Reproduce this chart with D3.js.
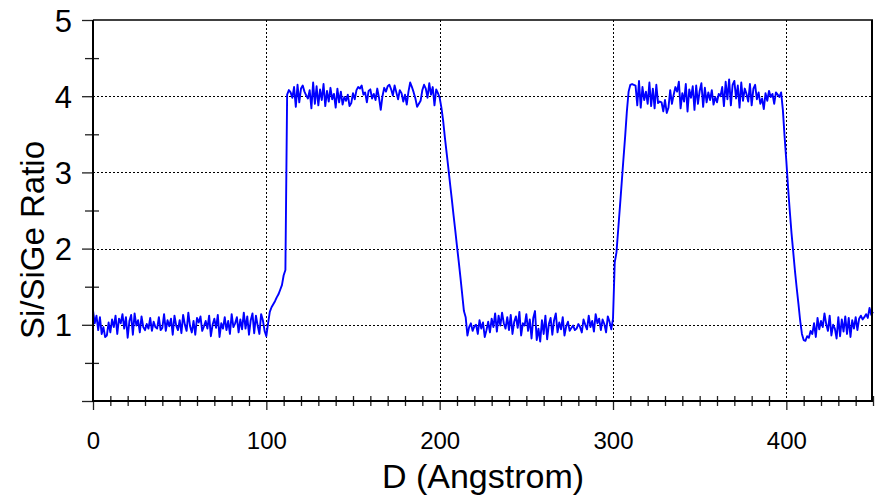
<!DOCTYPE html>
<html>
<head>
<meta charset="utf-8">
<script src="https://cdn.jsdelivr.net/npm/d3@7"></script>
<style>
  body { margin: 0; background: #fff; }
  svg { display: block; font-family: "Liberation Sans", Arial, sans-serif; }
</style>
</head>
<body>
<svg id="chart" width="877" height="496"></svg>
<script>
// Si/SiGe ratio sampled every 1 Angstrom, D = 0 .. 450
const depthStep = 1;
const ratio = [
  1.19, 1.02, 1.12, 0.93, 1.10, 0.88, 0.97, 0.84, 0.86, 1.03,
  0.90, 1.07, 0.97, 1.12, 0.88, 1.08, 1.02, 1.14, 0.95, 1.10,
  0.83, 1.05, 1.13, 0.87, 1.15, 0.99, 1.06, 0.90, 1.11, 0.97,
  0.93, 1.01, 0.95, 1.09, 0.92, 1.04, 0.97, 0.95, 1.10, 0.93,
  0.96, 1.14, 0.92, 1.06, 0.98, 1.08, 0.87, 1.12, 0.99, 0.93,
  1.06, 0.89, 1.13, 1.00, 0.92, 1.16, 0.98, 0.90, 1.05, 0.87,
  1.09, 1.03, 1.11, 0.92, 0.98, 1.05, 0.95, 1.12, 0.85, 1.00,
  1.08, 0.96, 1.13, 0.84, 1.02, 0.95, 1.10, 0.93, 1.05, 0.88,
  1.14, 0.97, 1.02, 1.10, 0.90, 1.07, 0.94, 1.16, 0.95, 1.11,
  0.87, 1.06, 1.15, 0.89, 1.12, 0.99, 0.88, 1.14, 1.06, 0.92,
  0.85, 1.02, 1.17, 1.23, 1.27, 1.31, 1.36, 1.40, 1.46, 1.52,
  1.65, 1.72, 4.02, 4.08, 4.05, 3.98, 4.12, 3.86, 4.15, 3.92,
  4.10, 4.14, 4.06, 4.01, 3.97, 4.08, 3.84, 4.18, 3.90, 4.13,
  3.88, 4.09, 3.95, 4.16, 3.87, 4.07, 3.93, 4.11, 3.96, 4.03,
  3.85, 4.10, 3.92, 4.06, 3.89, 3.99, 3.94, 4.02, 3.87, 3.91,
  4.04, 3.96, 4.08, 4.12, 4.10, 4.14, 4.02, 4.05, 3.92, 4.07,
  4.09, 3.97, 4.03, 3.95, 4.10, 3.98, 3.82, 4.00, 4.11, 4.06,
  4.13, 4.15, 4.09, 4.01, 4.14, 4.05, 3.96, 4.08, 4.04, 3.93,
  4.02, 3.89, 4.06, 4.18, 4.12, 4.05, 3.97, 3.86, 3.90, 3.94,
  4.08, 4.15, 4.10, 3.98, 4.17, 4.02, 4.12, 3.88, 4.09, 4.04,
  3.98, 3.85, 3.68, 3.46, 3.26, 3.06, 2.85, 2.65, 2.44, 2.24,
  2.03, 1.83, 1.62, 1.40, 1.18, 1.10, 0.86, 0.97, 1.02, 0.92,
  0.98, 1.00, 0.88, 1.06, 0.95, 1.03, 0.84, 0.93, 1.04, 0.90,
  1.08, 0.97, 1.15, 0.91, 1.12, 0.99, 1.16, 1.02, 0.95, 1.10,
  0.93, 1.13, 0.88, 1.04, 1.11, 0.96, 1.17, 0.86, 1.02, 0.99,
  1.14, 0.92, 1.07, 0.82, 1.09, 1.18, 0.80, 0.95, 0.78, 1.06,
  0.88, 1.12, 0.81, 1.01, 1.09, 0.87, 1.06, 1.15, 0.90, 1.03,
  0.94, 1.10, 0.86, 0.98, 1.04, 0.92, 0.96, 0.99, 0.93, 0.95,
  1.01, 0.97, 0.90, 1.07, 1.00, 0.94, 1.12, 0.97, 1.05, 0.91,
  1.14, 1.02, 1.08, 0.93, 1.07, 1.01, 0.90, 1.11, 1.04, 0.94,
  1.08, 1.82, 1.95, 2.25, 2.55, 2.86, 3.17, 3.47, 3.80, 4.06,
  4.15, 4.16, 4.15, 4.14, 3.88, 4.20, 3.85, 4.12, 3.95, 4.06,
  3.90, 4.18, 3.87, 4.10, 3.84, 4.15, 3.91, 3.93, 3.92, 3.80,
  3.95, 3.78, 3.85, 4.08, 3.90, 4.02, 4.12, 4.06, 4.19, 3.84,
  4.04, 3.93, 4.16, 3.80, 4.09, 3.98, 4.13, 3.82, 4.14, 3.90,
  4.07, 4.17, 3.86, 4.11, 3.92, 4.05, 3.95, 4.08, 3.89, 3.99,
  3.92, 4.03, 4.00, 4.12, 3.87, 4.19, 3.96, 4.22, 3.88, 4.15,
  4.20, 3.97, 4.14, 3.85, 4.18, 3.94, 4.10, 4.03, 3.93, 4.16,
  3.88, 4.10, 4.15, 3.96, 4.05, 3.90, 3.97, 3.83, 4.04, 3.94,
  4.07, 3.99, 4.03, 3.90, 4.05, 4.02, 3.99, 4.05, 3.82, 3.47,
  3.15, 2.80, 2.49, 2.20, 1.95, 1.70, 1.48, 1.27, 1.05, 0.88,
  0.80, 0.79, 0.85, 0.83, 0.92, 0.88, 1.02, 0.84, 1.09, 0.94,
  1.05, 0.97, 1.15, 1.01, 0.92, 1.12, 0.86, 1.00, 0.95, 0.82,
  1.10, 0.85, 1.07, 0.91, 1.11, 0.88, 1.09, 0.84, 1.06, 0.95,
  1.10, 0.93, 1.08, 1.12, 1.07, 1.10, 1.14, 1.09, 1.22, 1.13,
  1.17
];

const xMajor = [0, 100, 200, 300, 400];
const xMinor = [10, 20, 30, 40, 50, 60, 70, 80, 90, 110, 120, 130, 140, 150, 160, 170, 180, 190,
  210, 220, 230, 240, 250, 260, 270, 280, 290, 310, 320, 330, 340, 350, 360, 370, 380, 390,
  410, 420, 430, 440, 450];
const xGrid = [100, 200, 300, 400];
const yMajor = [0, 1, 2, 3, 4, 5];
const yLabelled = [1, 2, 3, 4, 5];
const yMinor = [0.5, 1.5, 2.5, 3.5, 4.5];
const yGrid = [1, 2, 3, 4];

const plotLeft = 93, plotRight = 873, plotTop = 20, plotBottom = 401;

const svg = d3.select('#chart');

const x = d3.scaleLinear().domain([0, 450]).range([plotLeft, plotRight]);
const y = d3.scaleLinear().domain([0, 5]).range([plotBottom, plotTop]);

// dotted grid
const grid = svg.append('g').attr('stroke', '#000').attr('stroke-width', 1).attr('stroke-dasharray', '2,2');
grid.selectAll('line.gx').data(xGrid).enter().append('line')
  .attr('x1', d => Math.round(x(d)) + 0.5).attr('x2', d => Math.round(x(d)) + 0.5)
  .attr('y1', plotTop).attr('y2', plotBottom);
grid.selectAll('line.gy').data(yGrid).enter().append('line')
  .attr('y1', d => Math.round(y(d)) + 0.5).attr('y2', d => Math.round(y(d)) + 0.5)
  .attr('x1', plotLeft).attr('x2', plotRight);

// the profile
const line = d3.line()
  .x((d, i) => x(i * depthStep))
  .y(d => y(d));
svg.append('path').datum(ratio)
  .attr('fill', 'none')
  .attr('stroke', '#0000ff')
  .attr('stroke-width', 1.9)
  .attr('stroke-linejoin', 'round')
  .attr('d', line);

// x axis: major ticks with labels, minor ticks crossing the axis
const xAxisMajor = svg.append('g').attr('transform', 'translate(0,' + plotBottom + ')')
  .call(d3.axisBottom(x).tickValues(xMajor).tickSize(9).tickFormat(d3.format('d')));
xAxisMajor.select('.domain').remove();
xAxisMajor.selectAll('text').attr('y', 48).attr('dy', 0)
  .attr('font-size', 24).attr('font-family', '"Liberation Sans", Arial, sans-serif').attr('fill', '#000');

const xAxisMinor = svg.append('g').attr('transform', 'translate(0,' + plotBottom + ')')
  .call(d3.axisBottom(x).tickValues(xMinor).tickSize(5).tickFormat(''));
xAxisMinor.select('.domain').remove();
xAxisMinor.selectAll('line').attr('y1', -5);

// y axis
const yAxisMajor = svg.append('g').attr('transform', 'translate(' + plotLeft + ',0)')
  .call(d3.axisLeft(y).tickValues(yMajor).tickSize(11)
    .tickFormat(d => yLabelled.includes(d) ? d : ''));
yAxisMajor.select('.domain').remove();
yAxisMajor.selectAll('text').attr('x', -21).attr('dy', '0.36em')
  .attr('font-size', 31).attr('font-family', '"Liberation Sans", Arial, sans-serif').attr('fill', '#000');

const yAxisMinor = svg.append('g').attr('transform', 'translate(' + plotLeft + ',0)')
  .call(d3.axisLeft(y).tickValues(yMinor).tickSize(8).tickFormat(''));
yAxisMinor.select('.domain').remove();
yAxisMinor.selectAll('line').attr('x1', 6);

svg.selectAll('.tick line').attr('stroke', '#222').attr('stroke-width', 1.3);

// frame
const frame = svg.append('g').attr('stroke', '#000').attr('stroke-width', 2).attr('fill', 'none');
frame.append('line').attr('x1', plotLeft).attr('x2', plotLeft).attr('y1', plotTop).attr('y2', plotBottom + 1);
frame.append('line').attr('x1', plotLeft).attr('x2', plotRight).attr('y1', plotBottom).attr('y2', plotBottom);
frame.append('line').attr('x1', plotLeft).attr('x2', plotRight).attr('y1', plotTop).attr('y2', plotTop).attr('stroke-width', 1.5);
frame.append('line').attr('x1', plotRight - 1).attr('x2', plotRight - 1).attr('y1', plotTop).attr('y2', plotBottom + 1);

// titles
svg.append('text')
  .attr('x', (plotLeft + plotRight) / 2).attr('y', 488)
  .attr('text-anchor', 'middle')
  .attr('font-size', 34)
  .attr('fill', '#000')
  .text('D (Angstrom)');

svg.append('text')
  .attr('transform', 'translate(44,240) rotate(-90)')
  .attr('text-anchor', 'middle')
  .attr('font-size', 33)
  .attr('fill', '#000')
  .text('Si/SiGe Ratio');
</script>
</body>
</html>
